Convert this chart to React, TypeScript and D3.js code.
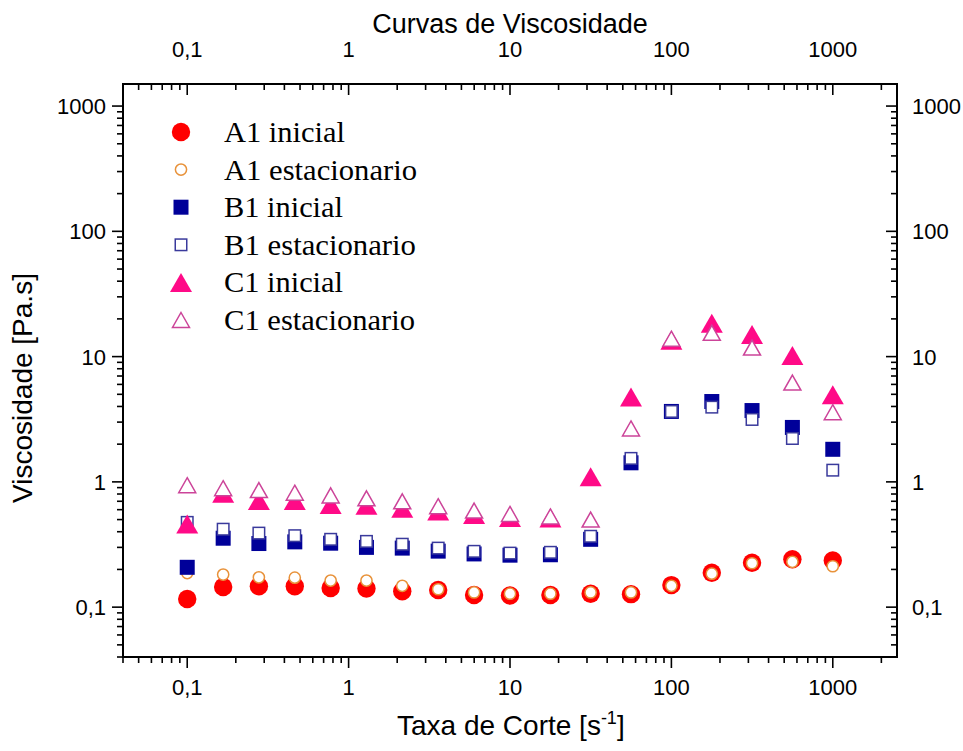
import React from 'react';
import * as d3 from 'd3';

const shearRate = [0.1, 0.167, 0.278, 0.464, 0.774, 1.29, 2.15, 3.59, 5.99, 10, 17.8, 31.6, 56.2, 100, 178, 316, 562, 1000];
const a1Inicial = [0.116, 0.145, 0.147, 0.147, 0.142, 0.141, 0.134, 0.137, 0.125, 0.124, 0.125, 0.128, 0.127, 0.150, 0.188, 0.226, 0.241, 0.236];
const a1Estacionario = [0.187, 0.182, 0.173, 0.172, 0.163, 0.163, 0.148, 0.139, 0.131, 0.128, 0.128, 0.131, 0.131, 0.148, 0.185, 0.224, 0.230, 0.212];
const b1Inicial = [0.208, 0.355, 0.322, 0.332, 0.324, 0.300, 0.296, 0.280, 0.266, 0.260, 0.262, 0.348, 1.42, 3.65, 4.38, 3.71, 2.72, 1.82];
const b1Estacionario = [0.475, 0.419, 0.390, 0.372, 0.348, 0.335, 0.318, 0.296, 0.279, 0.270, 0.274, 0.368, 1.54, 3.65, 3.95, 3.15, 2.22, 1.24];
const c1Inicial = [0.46, 0.81, 0.71, 0.71, 0.66, 0.65, 0.615, 0.585, 0.55, 0.52, 0.515, 1.10, 4.75, 13.5, 18.5, 15.0, 10.2, 4.95];
const c1Estacionario = [0.94, 0.89, 0.86, 0.82, 0.78, 0.74, 0.70, 0.64, 0.59, 0.555, 0.53, 0.50, 2.67, 13.9, 15.5, 11.8, 6.2, 3.6];

const seriesNames = ['A1 inicial', 'A1 estacionario', 'B1 inicial', 'B1 estacionario', 'C1 inicial', 'C1 estacionario'];
const majorTickValues = [0.1, 1, 10, 100, 1000];
const majorTickLabels = ['0,1', '1', '10', '100', '1000'];

const chartTitle = 'Curvas de Viscosidade';
const xTitle = 'Taxa de Corte [s';
const yTitle = 'Viscosidade [Pa.s]';

const W = 963, H = 751;
const L = 123, R = 897, T = 84, B = 657;
const SANS = '"Liberation Sans", Arial, Helvetica, sans-serif';
const SERIF = '"Liberation Serif", "Times New Roman", serif';

type Shape = 'circle' | 'square' | 'triangle';
interface Style { shape: Shape; filled: boolean; color: string; size: number; h?: number; }

const styles: Style[] = [
  { shape: 'circle', filled: true, color: '#ff0000', size: 9.2 },
  { shape: 'circle', filled: false, color: '#e8923a', size: 5.6 },
  { shape: 'square', filled: true, color: '#000099', size: 15 },
  { shape: 'square', filled: false, color: '#3a3a9c', size: 11.5 },
  { shape: 'triangle', filled: true, color: '#ff0a87', size: 22, h: 19 },
  { shape: 'triangle', filled: false, color: '#cc4499', size: 17, h: 15 },
];

function Marker({ cx, cy, s }: { cx: number; cy: number; s: Style }) {
  const fill = s.filled ? s.color : '#ffffff';
  const stroke = s.filled ? 'none' : s.color;
  const sw = s.filled ? 0 : 1.5;
  if (s.shape === 'circle') return <circle cx={cx} cy={cy} r={s.size} fill={fill} stroke={stroke} strokeWidth={sw} />;
  if (s.shape === 'square') return <rect x={cx - s.size / 2} y={cy - s.size / 2} width={s.size} height={s.size} fill={fill} stroke={stroke} strokeWidth={sw} />;
  const w = s.size / 2, h = (s.h || s.size) / 2;
  return <path d={`M${cx},${cy - h}L${cx + w},${cy + h}L${cx - w},${cy + h}Z`} fill={fill} stroke={stroke} strokeWidth={sw} strokeLinejoin="miter" />;
}

function logTicks(domain: [number, number]) {
  const out: { v: number; major: boolean }[] = [];
  for (let d = -3; d <= 4; d++) {
    for (let k = 1; k <= 9; k++) {
      const v = k * Math.pow(10, d);
      if (v >= domain[0] * 0.999 && v <= domain[1] * 1.001) out.push({ v, major: k === 1 });
    }
  }
  return out;
}

export default function App() {
  const xDom: [number, number] = [0.04, 2500];
  const yDom: [number, number] = [0.04, 1500];
  const x = d3.scaleLog().domain(xDom).range([L, R]);
  const y = d3.scaleLog().domain(yDom).range([B, T]);
  const xt = logTicks(xDom);
  const yt = logTicks(yDom);
  const values = [a1Inicial, a1Estacionario, b1Inicial, b1Estacionario, c1Inicial, c1Estacionario];
  const legendWidths = [121, 193, 119, 192, 119, 191];
  const major = 11, minor = 6;

  return (
    <svg width={W} height={H} style={{ position: 'absolute', left: 0, top: 0, background: '#fff' }}>
      <rect x={0} y={0} width={W} height={H} fill="#fff" />
      {/* ticks */}
      <g stroke="#000" strokeWidth={1.6}>
        {xt.map((t, i) => {
          const px = x(t.v);
          const len = t.major ? major : minor;
          return (
            <g key={'x' + i}>
              <line x1={px} x2={px} y1={B} y2={B + len} />
              <line x1={px} x2={px} y1={T} y2={T + len} />
            </g>
          );
        })}
        {yt.map((t, i) => {
          const py = y(t.v);
          const len = t.major ? major : minor;
          return (
            <g key={'y' + i}>
              <line x1={L - len} x2={L} y1={py} y2={py} />
              <line x1={R - len} x2={R} y1={py} y2={py} />
            </g>
          );
        })}
      </g>
      <rect x={L} y={T} width={R - L} height={B - T} fill="none" stroke="#000" strokeWidth={2} />
      {/* tick labels */}
      <g fontFamily={SANS} fontSize={22} fill="#000">
        {majorTickValues.map((v, i) => (
          <g key={'xl' + i}>
            <text x={x(v)} y={695} textAnchor="middle">{majorTickLabels[i]}</text>
            <text x={x(v)} y={57} textAnchor="middle">{majorTickLabels[i]}</text>
          </g>
        ))}
        {majorTickValues.map((v, i) => (
          <g key={'yl' + i}>
            <text x={106} y={y(v) + 8} textAnchor="end">{majorTickLabels[i]}</text>
            <text x={912} y={y(v) + 8} textAnchor="start">{majorTickLabels[i]}</text>
          </g>
        ))}
      </g>
      {/* titles */}
      <text x={(L + R) / 2} y={33} textAnchor="middle" fontFamily={SANS} fontSize={27}>{chartTitle}</text>
      <text x={397} y={735} fontFamily={SANS} fontSize={28}>
        {xTitle}
        <tspan dy={-11} fontSize={18}>-1</tspan>
        <tspan dy={11}>]</tspan>
      </text>
      <text transform={`translate(32,388) rotate(-90)`} textAnchor="middle" fontFamily={SANS} fontSize={28}>{yTitle}</text>
      {/* data */}
      {values.map((vals, si) => (
        <g key={'s' + si}>
          {vals.map((v, i) => (
            <Marker key={i} cx={x(shearRate[i])} cy={y(v)} s={styles[si]} />
          ))}
        </g>
      ))}
      {/* legend */}
      {seriesNames.map((name, i) => {
        const ly = 132 + i * 37.6;
        return (
          <g key={'lg' + i}>
            <Marker cx={181} cy={ly} s={styles[i]} />
            <text x={224} y={ly + 10} fontFamily={SERIF} fontSize={30} textLength={legendWidths[i]} lengthAdjust="spacingAndGlyphs">{name}</text>
          </g>
        );
      })}
    </svg>
  );
}
